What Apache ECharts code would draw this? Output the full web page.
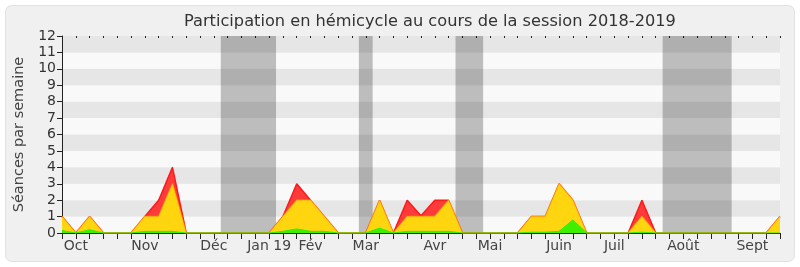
<!DOCTYPE html>
<html>
<head>
<meta charset="utf-8">
<script src="https://cdn.jsdelivr.net/npm/echarts@6/dist/echarts.min.js"></script>
<style>
html,body{margin:0;padding:0;background:#ffffff;}
#chart{width:800px;height:267px;}
</style>
</head>
<body>
<div id="chart"></div>
<script>
// Week index 0..52
const monthLabels = {1:'Oct',6:'Nov',11:'Déc',15:'Jan 19',18:'Fév',22:'Mar',27:'Avr',31:'Mai',36:'Juin',40:'Juil',45:'Août',50:'Sept'};
const redValues =    [1,0,1,0,0,0,1,2,4,0,0,0,0,0,0,0,1,3,2,1,0,0,0,2,0,2,1.05,2,2,0,0,0,0,0,1,1,3,2,0,0,0,0,2,0,0,0,0,0,0,0,0,0,1];
const yellowValues = [1,0,1,0,0,0,1,1,3,0,0,0,0,0,0,0,1,2,2,1,0,0,0,2,0,1,1,1,2,0,0,0,0,0,1,1,3,2,0,0,0,0,1,0,0,0,0,0,0,0,0,0,1];
const greenValues =  [0.15,0,0.2,0,0,0,0.1,0.1,0.1,0,0,0,0,0,0,0,0.1,0.25,0.1,0.1,0,0,0,0.3,0,0.1,0.1,0.1,0.1,0,0,0,0,0,0.05,0.05,0.1,0.8,0,0,0,0,0.05,0,0,0,0,0,0,0,0,0,0];
const vacations = [[11.5,15.5],[21.5,22.5],[28.5,30.5],[43.5,48.5]];

const toPairs = arr => arr.map((v,i)=>[i,v]);

const chart = echarts.init(document.getElementById('chart'), null, {renderer:'canvas'});
const font = 'DejaVu Sans';
chart.setOption({
  animation:false,
  backgroundColor:'#ffffff',
  textStyle:{fontFamily:font},
  graphic:[{
    type:'rect', z:-10, silent:true,
    shape:{x:5.5,y:5.5,width:789,height:256,r:6},
    style:{fill:'#f0f0f0',stroke:'#e2e2e2',lineWidth:1}
  }],
  title:{
    text:'Participation en hémicycle au cours de la session 2018-2019',
    left:179, top:9,
    textStyle:{fontFamily:font,fontSize:16.2,fontWeight:'normal',color:'#333'}
  },
  grid:{left:62,right:20,top:36,bottom:34},
  xAxis:[{
    type:'value', min:0, max:52, interval:1,
    axisLine:{show:true,lineStyle:{color:'#222',width:1}},
    axisTick:{show:true,length:6,lineStyle:{color:'#222'}},
    axisLabel:{show:true,fontFamily:font,fontSize:14,color:'#444',margin:6,
      formatter:v=>monthLabels[v]||''},
    splitLine:{show:false}
  },{
    type:'value', min:0, max:52, interval:1, position:'top',
    axisLine:{show:false},
    axisTick:{show:true,inside:true,length:2,lineStyle:{color:'#222'}},
    axisLabel:{show:false}, splitLine:{show:false}
  }],
  yAxis:{
    type:'value', min:0, max:12, interval:1,
    name:'Séances par semaine', nameLocation:'middle', nameGap:35,
    nameTextStyle:{fontFamily:font,fontSize:14.5,color:'#444'},
    axisLine:{show:true,lineStyle:{color:'#222'}},
    axisTick:{show:true,length:5,lineStyle:{color:'#222'}},
    axisLabel:{fontFamily:font,fontSize:14,color:'#333',margin:6},
    splitLine:{show:false},
    splitArea:{show:true,areaStyle:{color:['#f9f9f9','#e6e6e6']}}
  },
  series:[{
    type:'line', data:toPairs(redValues), symbol:'none', z:3,
    lineStyle:{color:'#ff1a1a',width:1.5},
    areaStyle:{color:'#ff3a3a',opacity:1},
    markArea:{silent:true,itemStyle:{color:'rgba(0,0,0,0.24)'},
      data:vacations.map(v=>[{xAxis:v[0]},{xAxis:v[1]}])}
  },{
    type:'line', data:toPairs(yellowValues), symbol:'none', z:4,
    lineStyle:{color:'rgba(255,200,0,0.55)',width:1.5},
    areaStyle:{color:'#ffd50f',opacity:1}
  },{
    type:'line', data:toPairs(greenValues), symbol:'none', z:5,
    lineStyle:{color:'#33ee00',width:1},
    areaStyle:{color:'#3cf000',opacity:1}
  }]
});
</script>
</body>
</html>
